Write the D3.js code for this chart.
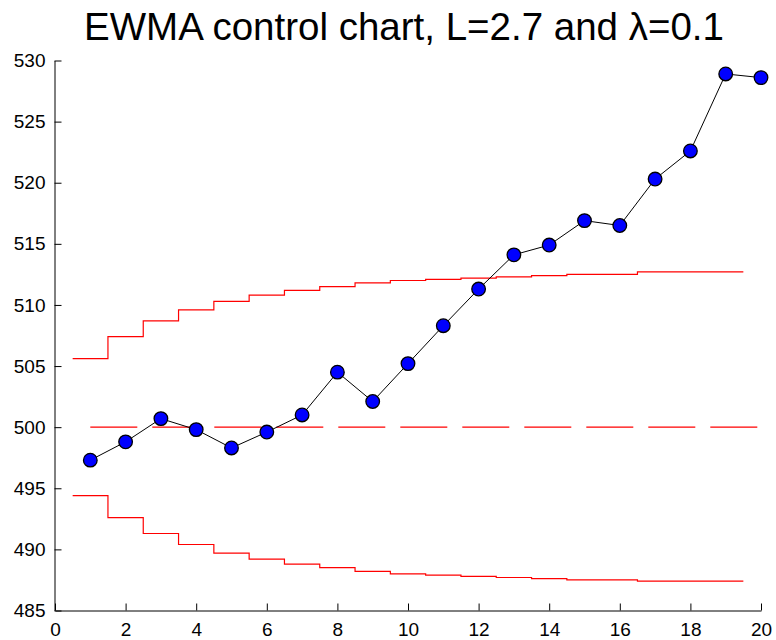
<!DOCTYPE html>
<html><head><meta charset="utf-8">
<script src="https://cdn.jsdelivr.net/npm/d3@7"></script>
<style>body{margin:0;background:#fff;} text{font-family:"Liberation Sans",Arial,sans-serif;}</style>
</head><body><svg id="c" width="776" height="640"></svg>
<script>
const samples = [1,2,3,4,5,6,7,8,9,10,11,12,13,14,15,16,17,18,19,20];
const ewma = [497.3,498.8,500.7,499.8,498.3,499.6,501.0,504.5,502.1,505.2,508.3,511.3,514.1,514.9,516.9,516.5,520.3,522.6,528.9,528.6];
const ucl = [505.6,507.4,508.7,509.6,510.3,510.8,511.2,511.5,511.8,512.0,512.1,512.2,512.3,512.4,512.5,512.5,512.7,512.7,512.7];
const lcl = [494.4,492.6,491.3,490.4,489.7,489.2,488.8,488.5,488.2,488.0,487.9,487.8,487.7,487.6,487.5,487.5,487.4,487.4,487.4];
const centerLine = 500;
const xTicks = [0,2,4,6,8,10,12,14,16,18,20];
const yTicks = [485,490,495,500,505,510,515,520,525,530];
const title = "EWMA control chart, L=2.7 and \u03bb=0.1";

const svg = d3.select("#c");
const x = d3.scaleLinear().domain([0,20]).range([55,761]);
const y = d3.scaleLinear().domain([485,530]).range([610.5,60.5]);

// axes
const xAxis = d3.axisBottom(x).tickValues(xTicks).tickSizeInner(-7).tickSizeOuter(0).tickPadding(12);
const yAxis = d3.axisLeft(y).tickValues(yTicks).tickSizeInner(-7).tickSizeOuter(0).tickPadding(9);
const gx = svg.append("g").attr("transform","translate(0,610.5)").call(xAxis);
const gy = svg.append("g").attr("transform","translate(54.5,0)").call(yAxis);
[gx,gy].forEach(g=>{
  g.selectAll("text").style("font-size","19px").attr("fill","#000");
  g.select(".domain").attr("stroke","#000");
  g.selectAll(".tick line").attr("stroke","#000");
});
gx.selectAll("text").attr("dy","0.71em");

// step limits
function stepPts(vals){
  const pts=[];
  vals.forEach((v,i)=>{ pts.push([samples[i]-0.5,v]); pts.push([samples[i]+0.5,v]); });
  return pts;
}
const line = d3.line().x(d=>x(d[0])).y(d=>y(d[1]));
svg.append("path").attr("d",line(stepPts(ucl))).attr("fill","none").attr("stroke","#ff0000").attr("stroke-width",1.2);
svg.append("path").attr("d",line(stepPts(lcl))).attr("fill","none").attr("stroke","#ff0000").attr("stroke-width",1.2);
svg.append("path").attr("d",line([[samples[0],centerLine],[samples[samples.length-1],centerLine]]))
  .attr("fill","none").attr("stroke","#ff0000").attr("stroke-width",1.2).attr("stroke-dasharray","47,15");

// ewma line and markers
svg.append("path").attr("d",line(samples.map((s,i)=>[s,ewma[i]]))).attr("fill","none").attr("stroke","#000").attr("stroke-width",1);
svg.append("g").selectAll("circle").data(samples).join("circle")
  .attr("cx",d=>x(d)).attr("cy",(d,i)=>y(ewma[i])).attr("r",6.8)
  .attr("fill","#0000ff").attr("stroke","#000").attr("stroke-width",1.3);

// title
svg.append("text").attr("x",(x(0)+x(20))/2 - 4).attr("y",40).attr("text-anchor","middle")
  .style("font-size","38.5px").attr("fill","#000").text(title);
</script></body></html>
